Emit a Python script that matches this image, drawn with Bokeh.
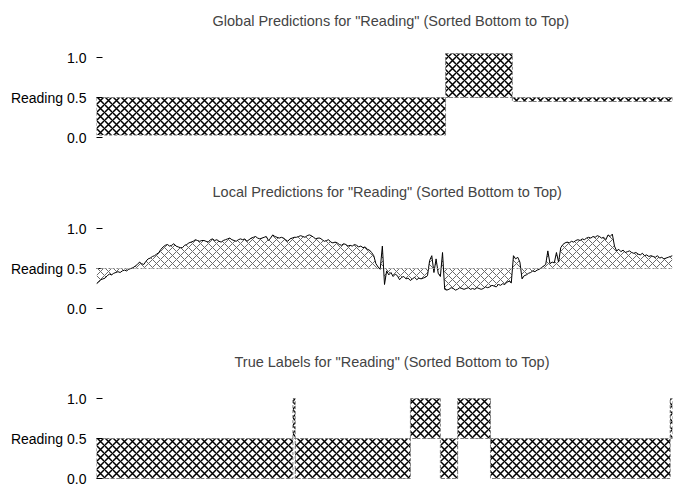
import numpy as np
from bokeh.plotting import figure
from bokeh.layouts import column
from bokeh.models import Range1d, FixedTicker, PrintfTickFormatter, ColumnDataSource, Span, Title
from bokeh.embed import file_html
from bokeh.resources import INLINE

# ---------------- data ----------------
y_ticks = [0.0, 0.5, 1.0]
baseline = 0.5
x_extent = [0, 1000]

global_edges = [0, 606, 722, 1000]
global_values = [0.03, 1.05, 0.45]

true_edges = [0, 341, 345, 545, 597, 627, 684, 996, 1000]
true_values = [0, 1, 0, 1, 0, 1, 0, 1]

local_values = [
    0.31, 0.33, 0.36, 0.37, 0.38, 0.41, 0.43, 0.42, 0.44, 0.45,
    0.46, 0.45, 0.47, 0.48, 0.47, 0.49, 0.50, 0.51, 0.53, 0.55,
    0.58, 0.56, 0.55, 0.59, 0.62, 0.63, 0.65, 0.66, 0.68, 0.70,
    0.74, 0.77, 0.79, 0.80, 0.78, 0.79, 0.81, 0.78, 0.77, 0.76,
    0.76, 0.79, 0.80, 0.82, 0.83, 0.84, 0.86, 0.85, 0.84, 0.85,
    0.85, 0.84, 0.83, 0.86, 0.87, 0.85, 0.86, 0.84, 0.83, 0.85,
    0.86, 0.87, 0.88, 0.86, 0.85, 0.84, 0.86, 0.87, 0.86, 0.87,
    0.84, 0.86, 0.88, 0.89, 0.90, 0.88, 0.87, 0.88, 0.89, 0.90,
    0.85, 0.88, 0.92, 0.90, 0.89, 0.88, 0.89, 0.88, 0.86, 0.84,
    0.87, 0.88, 0.89, 0.89, 0.90, 0.91, 0.90, 0.89, 0.91, 0.92,
    0.91, 0.89, 0.87, 0.88, 0.88, 0.86, 0.84, 0.85, 0.86, 0.83,
    0.82, 0.83, 0.82, 0.80, 0.79, 0.81, 0.80, 0.78, 0.79, 0.78,
    0.80, 0.79, 0.77, 0.78, 0.76, 0.77, 0.74, 0.73, 0.70, 0.66,
    0.56, 0.52, 0.49, 0.78, 0.30, 0.47, 0.42, 0.45, 0.40, 0.43,
    0.41, 0.36, 0.39, 0.40, 0.37, 0.38, 0.35, 0.37, 0.39, 0.36,
    0.38, 0.37, 0.38, 0.39, 0.41, 0.60, 0.66, 0.45, 0.62, 0.44,
    0.40, 0.70, 0.24, 0.23, 0.24, 0.26, 0.25, 0.23, 0.24, 0.26,
    0.25, 0.24, 0.25, 0.26, 0.24, 0.25, 0.24, 0.26, 0.25, 0.24,
    0.25, 0.27, 0.26, 0.27, 0.29, 0.28, 0.27, 0.30, 0.29, 0.31,
    0.30, 0.33, 0.34, 0.32, 0.66, 0.62, 0.64, 0.58, 0.37, 0.41,
    0.42, 0.44, 0.45, 0.47, 0.46, 0.48, 0.49, 0.51, 0.53, 0.55,
    0.72, 0.56, 0.58, 0.57, 0.70, 0.58, 0.76, 0.80, 0.82, 0.83,
    0.82, 0.84, 0.83, 0.85, 0.86, 0.85, 0.87, 0.86, 0.88, 0.89,
    0.88, 0.90, 0.89, 0.91, 0.90, 0.88, 0.89, 0.86, 0.92, 0.90,
    0.93, 0.78, 0.72, 0.74, 0.71, 0.73, 0.70, 0.71, 0.72, 0.70,
    0.69, 0.70, 0.68, 0.67, 0.69, 0.66, 0.67, 0.65, 0.66, 0.65,
    0.64, 0.66, 0.63, 0.64, 0.62, 0.63, 0.64, 0.65, 0.66,
]

titles = [
    'Global Predictions for "Reading" (Sorted Bottom to Top)',
    'Local Predictions for "Reading" (Sorted Bottom to Top)',
    'True Labels for "Reading" (Sorted Bottom to Top)',
]
title_offsets = [116, 116, 138]
y_label = "Reading"

FONT = "Liberation Sans"


def make_fig(title, offset, height, border_bottom):
    p = figure(width=673, height=height, output_backend="svg", toolbar_location=None,
               x_range=Range1d(*x_extent), y_range=Range1d(-0.1, 1.1),
               x_axis_location=None, min_border_left=96, min_border_right=1,
               min_border_top=49, min_border_bottom=border_bottom)
    # spacer between frame and title
    p.add_layout(Title(text=" ", text_font_size="1px", standoff=12.5), "above")
    p.add_layout(Title(text=title, text_font=FONT, text_font_size="14.5px",
                       text_font_style="normal", align="left", offset=offset), "above")
    p.outline_line_color = None
    p.grid.visible = False
    ax = p.yaxis[0]
    ax.ticker = FixedTicker(ticks=y_ticks)
    ax.formatter = PrintfTickFormatter(format="%.1f")
    ax.axis_line_color = None
    ax.major_tick_in = 6
    ax.major_tick_out = 0
    ax.minor_tick_line_color = None
    ax.major_tick_line_color = "black"
    ax.major_label_standoff = 10
    ax.major_label_text_font = FONT
    ax.major_label_text_font_size = "14px"
    ax.major_label_text_color = "black"
    ax.axis_label = y_label
    ax.axis_label_orientation = "horizontal"
    ax.axis_label_standoff = 1
    ax.axis_label_text_font = FONT
    ax.axis_label_text_font_size = "14px"
    ax.axis_label_text_font_style = "normal"
    ax.axis_label_text_color = "black"
    return p


def step_quads(p, edges, values):
    src = ColumnDataSource(dict(left=edges[:-1], right=edges[1:],
                                bottom=[baseline] * len(values), top=values))
    p.quad(left="left", right="right", bottom="bottom", top="top", source=src,
           fill_alpha=0, hatch_pattern="diagonal_cross", hatch_color="black",
           hatch_scale=8, hatch_weight=1.5, line_color="#7a7a7a",
           line_dash="3 2", line_width=1)


p1 = make_fig(titles[0], title_offsets[0], 171, 26)
step_quads(p1, global_edges, global_values)

p2 = make_fig(titles[1], title_offsets[1], 170, 25)
lx = np.linspace(x_extent[0], x_extent[1], len(local_values))
p2.varea(x=lx, y1=baseline, y2=local_values, fill_alpha=0,
         hatch_pattern="diagonal_cross", hatch_color="#6a6a6a",
         hatch_scale=8, hatch_weight=1.0)
p2.add_layout(Span(location=baseline, dimension="width", line_color="#8a8a8a",
                   line_dash="2 2", line_width=1))
p2.line(lx, local_values, line_color="black", line_width=1)

p3 = make_fig(titles[2], title_offsets[2], 145, 0)
step_quads(p3, true_edges, true_values)

layout = column(p1, p2, p3, spacing=0)
open("out.html", "w").write(file_html(layout, INLINE))
